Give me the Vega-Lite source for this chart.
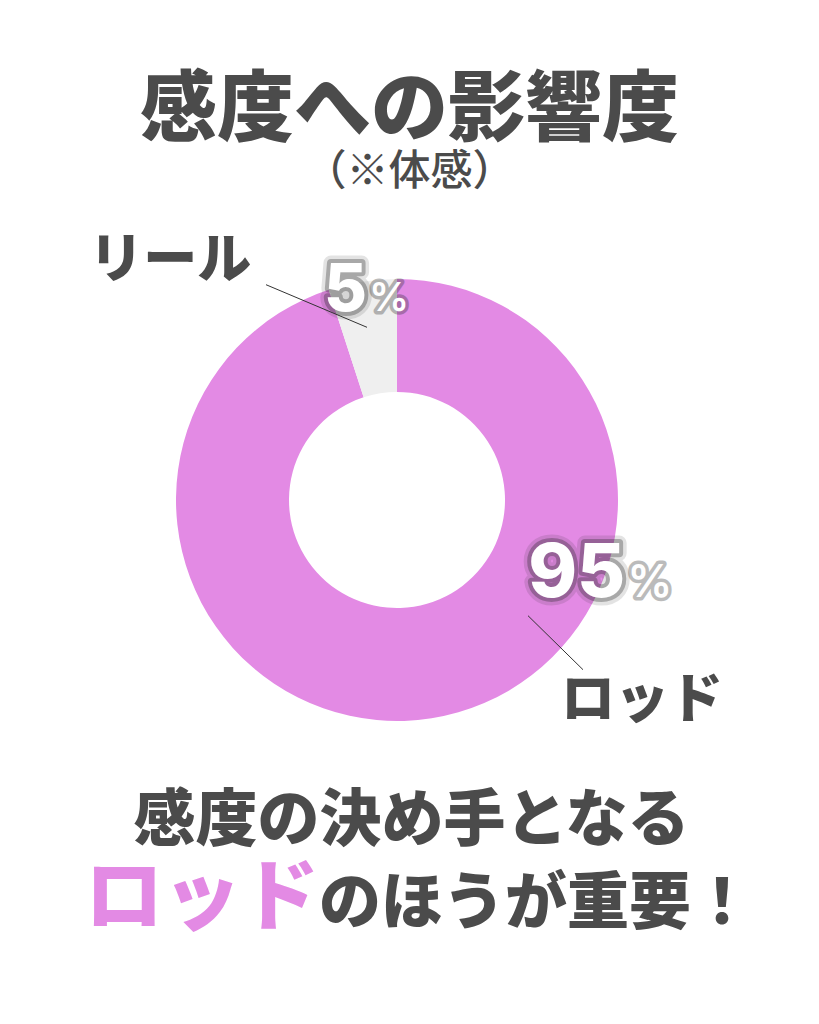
{
  "$schema": "https://vega.github.io/schema/vega-lite/v6.json",
  "background": "white",
  "padding": {"top": 72, "left": 0, "right": 0, "bottom": 0},
  "spacing": 78,
  "bounds": "flush",
  "config": {"view": {"stroke": null}, "font": "Noto Sans CJK JP"},
  "title": {
    "text": "感度への影響度",
    "subtitle": "（※体感）",
    "font": "Noto Sans CJK JP",
    "subtitleFont": "Noto Sans CJK JP",
    "fontSize": 77,
    "fontWeight": 900,
    "color": "#4b4b4b",
    "subtitleFontSize": 42,
    "subtitleFontWeight": 500,
    "subtitleColor": "#4b4b4b",
    "subtitlePadding": 1,
    "anchor": "middle",
    "offset": 41
  },
  "datasets": {
    "share": [
      {"name": "ロッド", "value": 95},
      {"name": "リール", "value": 5}
    ],
    "captions": [
      {"line": "1", "text": "感度の決め手となる", "part": "main"},
      {"line": "2", "text": "ロッド", "part": "highlight"},
      {"line": "2", "text": "のほうが重要！", "part": "rest"}
    ]
  },
  "vconcat": [
    {
      "width": 794,
      "height": 442,
      "data": {"name": "share"},
      "layer": [
        {
          "encoding": {
            "theta": {"field": "value", "type": "quantitative", "stack": true},
            "order": {"field": "value", "type": "quantitative", "sort": "descending"},
            "detail": {"field": "name", "type": "nominal"}
          },
          "layer": [
            {
              "mark": {"type": "arc", "innerRadius": 108, "outerRadius": 221},
              "encoding": {
                "color": {"field": "name", "type": "nominal", "legend": null,
                  "scale": {"domain": ["ロッド", "リール"], "range": ["#E38AE4", "#EFEFEF"]}}
              }
            },
            {
              "mark": {"type": "text", "radius": 241, "dx": -189, "fontSize": 54, "fontWeight": 900, "color": "#4b4b4b", "align": "center", "baseline": "middle"},
              "encoding": {"text": {"condition": {"test": "datum.name === 'リール'", "field": "name"}, "value": ""}}
            },
            {
              "mark": {"type": "text", "radius": 204.5, "dx": 213, "fontSize": 54, "fontWeight": 900, "color": "#4b4b4b", "align": "center", "baseline": "middle"},
              "encoding": {"text": {"condition": {"test": "datum.name === 'ロッド'", "field": "name"}, "value": ""}}
            },
            {
              "mark": {"type": "text", "radius": 191, "font": "Inter", "fontSize": 66, "fontWeight": 800, "align": "right", "baseline": "alphabetic", "fill": "#222222", "stroke": "#222222", "strokeWidth": 15, "strokeJoin": "round", "opacity": 0.12},
              "encoding": {"text": {"condition": {"test": "datum.name === 'リール'", "field": "value"}, "value": ""}}
            },
            {
              "mark": {"type": "text", "radius": 191, "font": "Inter", "fontSize": 66, "fontWeight": 800, "align": "right", "baseline": "alphabetic", "fill": "#222222", "stroke": "#222222", "strokeWidth": 8, "strokeJoin": "round", "opacity": 0.3},
              "encoding": {"text": {"condition": {"test": "datum.name === 'リール'", "field": "value"}, "value": ""}}
            },
            {
              "mark": {"type": "text", "radius": 191, "font": "Inter", "fontSize": 66, "fontWeight": 800, "align": "right", "baseline": "alphabetic", "fill": "white"},
              "encoding": {"text": {"condition": {"test": "datum.name === 'リール'", "field": "value"}, "value": ""}}
            },
            {
              "mark": {"type": "text", "radius": 191, "dx": 2, "font": "Inter", "fontSize": 40, "fontWeight": 600, "align": "left", "baseline": "alphabetic", "fill": "#222222", "stroke": "#222222", "strokeWidth": 7, "strokeJoin": "round", "opacity": 0.3},
              "encoding": {"text": {"condition": {"test": "datum.name === 'リール'", "value": "%"}, "value": ""}}
            },
            {
              "mark": {"type": "text", "radius": 191, "dx": 2, "font": "Inter", "fontSize": 40, "fontWeight": 600, "align": "left", "baseline": "alphabetic", "fill": "white"},
              "encoding": {"text": {"condition": {"test": "datum.name === 'リール'", "value": "%"}, "value": ""}}
            },
            {
              "mark": {"type": "text", "radius": 98, "dx": 213, "font": "Inter", "fontSize": 74, "fontWeight": 800, "align": "right", "baseline": "alphabetic", "fill": "#222222", "stroke": "#222222", "strokeWidth": 15, "strokeJoin": "round", "opacity": 0.12},
              "encoding": {"text": {"condition": {"test": "datum.name === 'ロッド'", "field": "value"}, "value": ""}}
            },
            {
              "mark": {"type": "text", "radius": 98, "dx": 213, "font": "Inter", "fontSize": 74, "fontWeight": 800, "align": "right", "baseline": "alphabetic", "fill": "#222222", "stroke": "#222222", "strokeWidth": 8, "strokeJoin": "round", "opacity": 0.3},
              "encoding": {"text": {"condition": {"test": "datum.name === 'ロッド'", "field": "value"}, "value": ""}}
            },
            {
              "mark": {"type": "text", "radius": 98, "dx": 213, "font": "Inter", "fontSize": 74, "fontWeight": 800, "align": "right", "baseline": "alphabetic", "fill": "white"},
              "encoding": {"text": {"condition": {"test": "datum.name === 'ロッド'", "field": "value"}, "value": ""}}
            },
            {
              "mark": {"type": "text", "radius": 98, "dx": 215, "font": "Inter", "fontSize": 45, "fontWeight": 600, "align": "left", "baseline": "alphabetic", "fill": "#222222", "stroke": "#222222", "strokeWidth": 7, "strokeJoin": "round", "opacity": 0.3},
              "encoding": {"text": {"condition": {"test": "datum.name === 'ロッド'", "value": "%"}, "value": ""}}
            },
            {
              "mark": {"type": "text", "radius": 98, "dx": 215, "font": "Inter", "fontSize": 45, "fontWeight": 600, "align": "left", "baseline": "alphabetic", "fill": "white"},
              "encoding": {"text": {"condition": {"test": "datum.name === 'ロッド'", "value": "%"}, "value": ""}}
            }
          ]
        },
        {
          "transform": [{"filter": "datum.name === 'リール'"}],
          "mark": {"type": "rule", "color": "#333333", "strokeWidth": 1},
          "encoding": {"x": {"value": 266}, "y": {"value": 5.7}, "x2": {"value": 367}, "y2": {"value": 48.3}}
        },
        {
          "transform": [{"filter": "datum.name === 'ロッド'"}],
          "mark": {"type": "rule", "color": "#333333", "strokeWidth": 1},
          "encoding": {"x": {"value": 528}, "y": {"value": 336.7}, "x2": {"value": 583}, "y2": {"value": 390.7}}
        }
      ]
    },
    {
      "width": 819,
      "height": 166,
      "data": {"name": "captions"},
      "encoding": {
        "y": {"field": "line", "type": "ordinal", "axis": null, "scale": {"type": "point", "padding": 0.5}}
      },
      "layer": [
        {
          "transform": [{"filter": "datum.part === 'main'"}],
          "mark": {"type": "text", "fontSize": 62, "fontWeight": 900, "align": "center", "baseline": "alphabetic", "dx": 2, "color": "#4b4b4b"},
          "encoding": {"text": {"field": "text"}}
        },
        {
          "transform": [{"filter": "datum.part === 'highlight'"}],
          "mark": {"type": "text", "fontSize": 78, "fontWeight": 900, "align": "right", "baseline": "alphabetic", "dx": -90.5, "color": "#E38AE4"},
          "encoding": {"text": {"field": "text"}}
        },
        {
          "transform": [{"filter": "datum.part === 'rest'"}],
          "mark": {"type": "text", "fontSize": 62, "fontWeight": 900, "align": "left", "baseline": "alphabetic", "dx": -90.5, "color": "#4b4b4b"},
          "encoding": {"text": {"field": "text"}}
        }
      ]
    }
  ]
}
